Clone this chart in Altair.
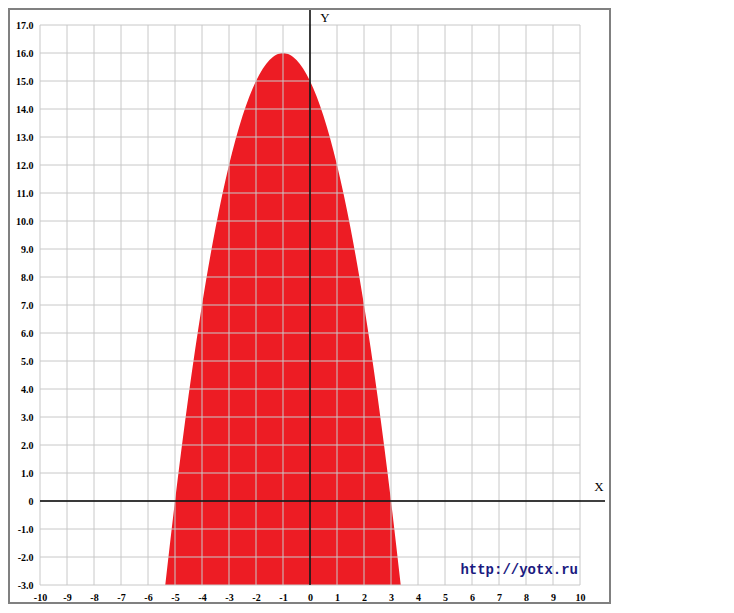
import altair as alt
import pandas as pd

# Curve values (filled down to the bottom of the plot, y = -3)
curve_x = [-5.36, -5.0, -4.5, -4.0, -3.5, -3.0, -2.5, -2.0, -1.5, -1.25, -1.0, -0.75,
           -0.5, 0.0, 0.5, 1.0, 1.5, 2.0, 2.5, 3.0, 3.36]
curve_y = [-3.0, 0.0, 3.75, 7.0, 9.75, 12.0, 13.75, 15.0, 15.75, 15.94, 16.0, 15.94,
           15.75, 15.0, 13.75, 12.0, 9.75, 7.0, 3.75, 0.0, -3.0]
x_ticks = list(range(-10, 11))
y_ticks = list(range(-3, 18))
watermark = "http://yotx.ru"
x_title = "X"
y_title = "Y"

W, H = 540, 560
xs = alt.Scale(domain=[-10, 10], nice=False, zero=False)
ys = alt.Scale(domain=[-3, 17], nice=False, zero=False)

lab = dict(labelFont="Liberation Serif", labelFontWeight="bold", labelFontSize=10,
           labelColor="black", grid=False, domain=False, ticks=False, title=None,
           labelOverlap=False, labelFlush=False)
ax_x = alt.Axis(values=x_ticks, labelPadding=7,
                labelExpr="(datum.value < 0 ? '-' : '') + format(abs(datum.value), 'd')", **lab)
ax_y = alt.Axis(values=y_ticks, labelPadding=7,
                labelExpr="datum.value == 0 ? '0' : (datum.value < 0 ? '-' : '') + format(abs(datum.value), '.1f')",
                **lab)

one = pd.DataFrame({"a": [0]})

area = alt.Chart(pd.DataFrame({"x": curve_x, "y": curve_y})).mark_area(
    color="#ED1C24", interpolate="monotone", opacity=1
).encode(
    x=alt.X("x:Q", scale=xs, axis=ax_x),
    y=alt.Y("y:Q", scale=ys, axis=ax_y),
    y2=alt.datum(-3),
)

vgrid = alt.Chart(pd.DataFrame({"x": x_ticks})).mark_rule(color="#c8c8c8", strokeWidth=1).encode(
    x=alt.X("x:Q", scale=xs, axis=ax_x), y=alt.value(0), y2=alt.value(H)
)
hgrid = alt.Chart(pd.DataFrame({"y": y_ticks})).mark_rule(color="#c8c8c8", strokeWidth=1).encode(
    y=alt.Y("y:Q", scale=ys, axis=ax_y), x=alt.value(0), x2=alt.value(W)
)

x_line = alt.Chart(pd.DataFrame({"y": [0]})).mark_rule(color="black", strokeWidth=1.5).encode(
    y=alt.Y("y:Q", scale=ys, axis=ax_y), x=alt.value(0), x2=alt.value(565)
)
y_line = alt.Chart(pd.DataFrame({"x": [0]})).mark_rule(color="black", strokeWidth=1.5).encode(
    x=alt.X("x:Q", scale=xs, axis=ax_x), y=alt.value(-17), y2=alt.value(H)
)

frame = alt.Chart(one).mark_rect(filled=False, stroke="#808080", strokeWidth=2).encode(
    x=alt.value(-31), x2=alt.value(570), y=alt.value(-16), y2=alt.value(578)
)

t_x = alt.Chart(one).mark_text(font="Liberation Serif", fontSize=13, color="black",
                               align="center", baseline="middle").encode(
    x=alt.value(559), y=alt.value(462), text=alt.value(x_title)
)
t_y = alt.Chart(one).mark_text(font="Liberation Serif", fontSize=13, color="black",
                               align="center", baseline="alphabetic").encode(
    x=alt.value(285), y=alt.value(-3), text=alt.value(y_title)
)
t_w = alt.Chart(one).mark_text(font="Liberation Mono", fontSize=14, fontWeight="bold",
                               color="#1a1a80", align="right", baseline="alphabetic").encode(
    x=alt.value(538), y=alt.value(549), text=alt.value(watermark)
)

chart = alt.layer(area, vgrid, hgrid, x_line, y_line, frame, t_x, t_y, t_w).properties(
    width=W, height=H,
    padding={"left": 32, "top": 17, "right": 146, "bottom": 20},
    autosize=alt.AutoSizeParams(type="none"),
).configure_view(stroke=None)

chart.save("out.html", embed_options={"renderer": "svg", "actions": False})
